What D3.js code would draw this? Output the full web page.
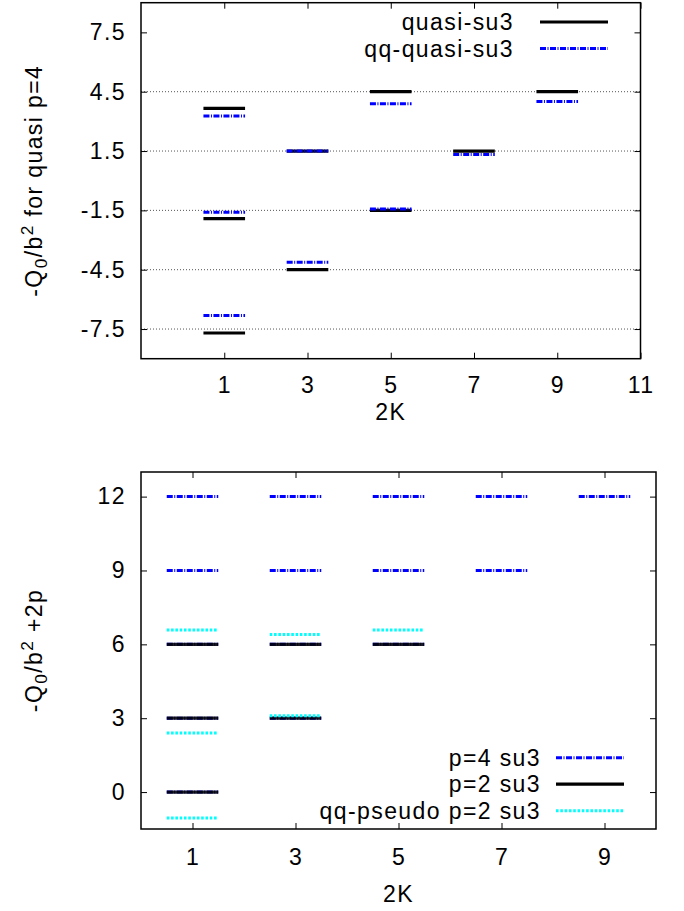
<!DOCTYPE html>
<html>
<head>
<meta charset="utf-8">
<script src="https://cdn.jsdelivr.net/npm/d3@7"></script>
<style>
  body { margin: 0; background: #fff; }
  svg { display: block; font-family: 'Liberation Sans', Arial, sans-serif; }
  svg text { letter-spacing: 1.4px; }
</style>
</head>
<body>
<svg id="chart" width="684" height="911"></svg>
<script>
// ---- top panel data (quasi p=4) ----
const topXTicks = [1, 3, 5, 7, 9, 11];
const topYTicks = [-7.5, -4.5, -1.5, 1.5, 4.5, 7.5];
const topGrid = [-7.5, -4.5, -1.5, 1.5, 4.5];

const quasiSu3 = [
  { k: 1, levels: [3.66, -1.92, -7.7] },
  { k: 3, levels: [1.5, -4.5] },
  { k: 5, levels: [4.5, -1.5] },
  { k: 7, levels: [1.5] },
  { k: 9, levels: [4.5] }
];

const qqQuasiSu3 = [
  { k: 1, levels: [3.27, -1.6, -6.82] },
  { k: 3, levels: [1.5, -4.12] },
  { k: 5, levels: [3.89, -1.43] },
  { k: 7, levels: [1.33] },
  { k: 9, levels: [4.0] }
];

// ---- bottom panel data ----
const botXTicks = [1, 3, 5, 7, 9];
const botYTicks = [0, 3, 6, 9, 12];

const p4Su3 = [
  { k: 1, levels: [12, 9, 6, 3, 0] },
  { k: 3, levels: [12, 9, 6, 3] },
  { k: 5, levels: [12, 9, 6] },
  { k: 7, levels: [12, 9] },
  { k: 9, levels: [12] }
];

const p2Su3 = [
  { k: 1, levels: [6, 3, 0] },
  { k: 3, levels: [6, 3] },
  { k: 5, levels: [6] }
];

const qqPseudoP2 = [
  { k: 1, levels: [6.58, 2.4, -1.05] },
  { k: 3, levels: [6.4, 3.1] },
  { k: 5, levels: [6.58] }
];

// line styles
const styles = {
  black: { stroke: '#000', width: 3.2, dash: null, op: 1 },
  blackOver: { stroke: '#000', width: 3.2, dash: null, op: 0.88 },
  blue: { stroke: '#0000ff', width: 3, dash: '6,1.5,1,1.5', op: 1 },
  cyan: { stroke: '#00ffff', width: 3, dash: '2.6,1.7', op: 1 }
};

const FS = 23;
const svg = d3.select('#chart');

function styleLine(sel, st) {
  sel.style('stroke', st.stroke)
    .style('stroke-width', st.width)
    .style('stroke-dasharray', st.dash)
    .style('stroke-opacity', st.op)
    .style('fill', 'none');
}

function panel(opt) {
  const w = opt.width, h = opt.height;
  const g = svg.append('g').attr('transform', `translate(${opt.left},${opt.top})`);

  const x = d3.scaleLinear().domain(opt.xDomain).range([0, w]);
  const y = d3.scaleLinear().domain(opt.yDomain).range([h, 0]);

  // grid
  g.selectAll('.grid').data(opt.grid)
    .join('line')
    .attr('class', 'grid')
    .attr('x1', 0).attr('x2', w)
    .attr('y1', d => y(d)).attr('y2', d => y(d))
    .style('stroke', '#555')
    .style('stroke-width', 1)
    .style('stroke-dasharray', '1,2');

  // axes, ticks pointing inward
  const fmt = d => String(d);
  const ax = [
    g.append('g').attr('transform', `translate(0,${h})`)
      .call(d3.axisBottom(x).tickValues(opt.xTicks).tickSize(-6).tickPadding(opt.xPad).tickFormat(fmt)),
    g.append('g')
      .call(d3.axisTop(x).tickValues(opt.xTicks).tickSize(-6).tickFormat('')),
    g.append('g')
      .call(d3.axisLeft(y).tickValues(opt.yTicks).tickSize(-6).tickPadding(15).tickFormat(fmt)),
    g.append('g').attr('transform', `translate(${w},0)`)
      .call(d3.axisRight(y).tickValues(opt.yTicks).tickSize(-6).tickFormat(''))
  ];
  ax.forEach(a => {
    a.select('.domain').remove();
    a.selectAll('.tick line').style('stroke', '#000').style('stroke-width', 1);
    a.selectAll('text').style('font-size', FS + 'px').style('fill', '#000')
      .style('font-family', "'Liberation Sans', Arial, sans-serif");
  });

  // series
  opt.series.forEach(s => {
    const segs = s.data.flatMap(d => d.levels.map(v => ({ k: d.k, v })));
    g.append('g').selectAll('line').data(segs)
      .join('line')
      .attr('x1', d => x(d.k - 0.5)).attr('x2', d => x(d.k + 0.5))
      .attr('y1', d => y(d.v)).attr('y2', d => y(d.v))
      .call(styleLine, styles[s.style]);
  });

  // frame
  g.append('rect')
    .attr('width', w).attr('height', h)
    .style('fill', 'none').style('stroke', '#000').style('stroke-width', 1.5);

  // legend
  const lg = svg.append('g');
  opt.series.forEach((s, i) => {
    const ly = opt.legend.y + i * opt.legend.dy;
    lg.append('text')
      .attr('x', opt.legend.textX).attr('y', ly + 8)
      .attr('text-anchor', 'end')
      .style('font-size', FS + 'px')
      .text(s.name);
    lg.append('line')
      .attr('x1', opt.legend.x1).attr('x2', opt.legend.x2)
      .attr('y1', ly).attr('y2', ly)
      .call(styleLine, styles[s.style === 'blackOver' ? 'black' : s.style]);
  });

  // x title
  svg.append('text')
    .attr('x', opt.left + w / 2).attr('y', opt.xTitleY)
    .attr('text-anchor', 'middle')
    .style('font-size', FS + 'px')
    .text('2K');

  // y title
  const yt = svg.append('text')
    .attr('transform', `translate(${opt.yTitleX},${opt.top + h / 2}) rotate(-90)`)
    .attr('text-anchor', 'middle')
    .style('font-size', FS + 'px');
  yt.append('tspan').text('-Q');
  yt.append('tspan').attr('dy', 5).style('font-size', (FS * 0.75) + 'px').text('0');
  yt.append('tspan').attr('dy', -5).text('/b');
  yt.append('tspan').attr('dy', -9).style('font-size', (FS * 0.75) + 'px').text('2');
  yt.append('tspan').attr('dy', 9).text(opt.yTitleRest);
}

panel({
  left: 141, top: 2.7, width: 499.5, height: 356,
  xDomain: [-1, 11], yDomain: [-9, 9],
  xTicks: topXTicks, yTicks: topYTicks, grid: topGrid,
  xPad: 18,
  series: [
    { name: 'quasi-su3', data: quasiSu3, style: 'black' },
    { name: 'qq-quasi-su3', data: qqQuasiSu3, style: 'blue' }
  ],
  legend: { textX: 514, x1: 540, x2: 608, y: 22, dy: 26.5 },
  xTitleY: 420, yTitleX: 42, yTitleRest: ' for quasi p=4'
});

panel({
  left: 141, top: 472, width: 515, height: 357,
  xDomain: [0, 10], yDomain: [-1.5, 13],
  xTicks: botXTicks, yTicks: botYTicks, grid: [],
  xPad: 20,
  series: [
    { name: 'p=4 su3', data: p4Su3, style: 'blue' },
    { name: 'p=2 su3', data: p2Su3, style: 'blackOver' },
    { name: 'qq-pseudo p=2 su3', data: qqPseudoP2, style: 'cyan' }
  ],
  legend: { textX: 541, x1: 556, x2: 624, y: 757.7, dy: 26.5 },
  xTitleY: 902, yTitleX: 42, yTitleRest: ' +2p'
});
</script>
</body>
</html>
